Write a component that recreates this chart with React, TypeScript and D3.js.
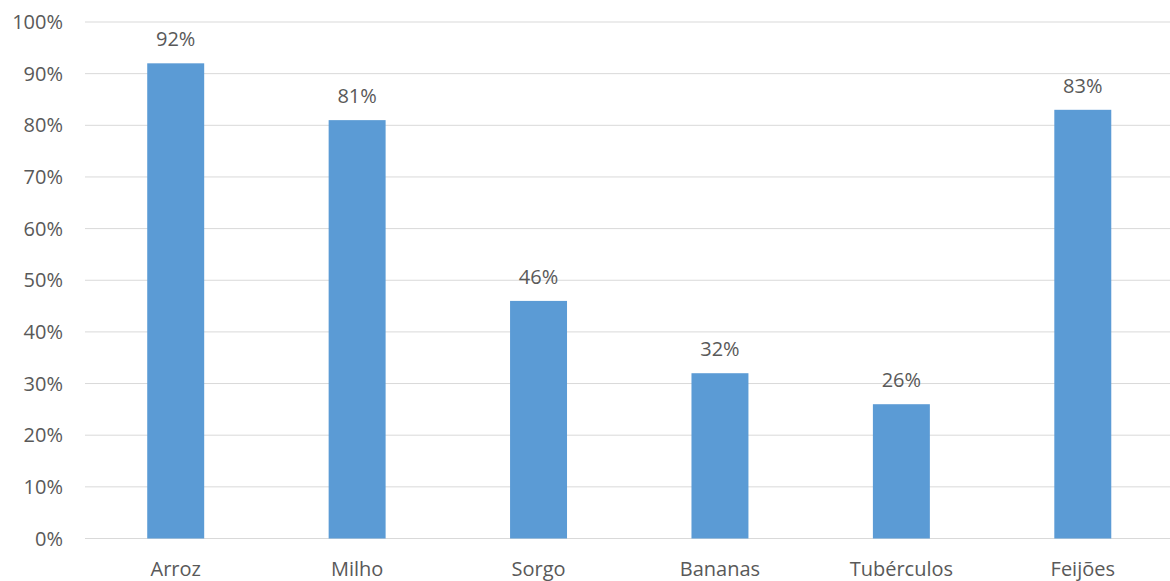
import React from "react";
import * as d3 from "d3";

const categories = ["Arroz", "Milho", "Sorgo", "Bananas", "Tubérculos", "Feijões"];
const values = [92, 81, 46, 32, 26, 83];
const yTicks = [0, 10, 20, 30, 40, 50, 60, 70, 80, 90, 100];

const W = 1170;
const H = 581;
const left = 85;
const right = 1173.5;
const top = 22;
const bottom = 538.5;
const FONT = "'Open Sans', 'Segoe UI', sans-serif";
const TEXT = "#595959";

export default function App() {
  const x = d3.scaleBand<string>().domain(categories).range([left, right]).paddingInner(0.686).paddingOuter(0.343);
  const y = d3.scaleLinear().domain([0, 100]).range([bottom, top]);
  return (
    <svg width={W} height={H} style={{ position: "absolute", left: 0, top: 0, background: "#fff" }}>
      {yTicks.map((t) => (
        <g key={t}>
          <line x1={left} x2={W} y1={y(t)} y2={y(t)} stroke="#d9d9d9" strokeWidth={1} />
          <text x={63} y={y(t)} dy="0.35em" textAnchor="end" fontFamily={FONT} fontSize={20} fill={TEXT}>
            {t}%
          </text>
        </g>
      ))}
      {categories.map((c, i) => (
        <g key={c}>
          <rect x={x(c)} y={y(values[i])} width={x.bandwidth()} height={y(0) - y(values[i])} fill="#5b9bd5" />
          <text x={(x(c) as number) + x.bandwidth() / 2} y={y(values[i]) - 17} textAnchor="middle" fontFamily={FONT} fontSize={20} fill={TEXT}>
            {values[i]}%
          </text>
          <text x={(x(c) as number) + x.bandwidth() / 2} y={576} textAnchor="middle" fontFamily={FONT} fontSize={20} fill={TEXT}>
            {c}
          </text>
        </g>
      ))}
    </svg>
  );
}
